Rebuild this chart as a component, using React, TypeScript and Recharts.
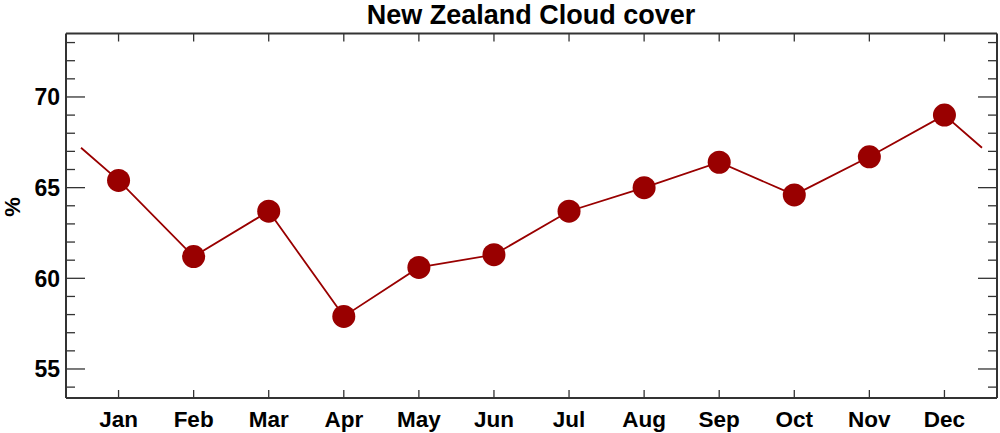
import { LineChart, Line, XAxis, YAxis } from "recharts";

// monthly mean cloud cover (%), Jan..Dec
const months = ["Jan", "Feb", "Mar", "Apr", "May", "Jun", "Jul", "Aug", "Sep", "Oct", "Nov", "Dec"];
const cloud = [65.4, 61.2, 63.7, 57.9, 60.6, 61.3, 63.7, 65.0, 66.4, 64.6, 66.7, 69.0];
// wrap-around line ends drawn at half a month beyond Jan and Dec
const wrapPos = [0.5, 12.5];
const wrapVal = [67.2, 67.2];

const yTicks = [54, 55, 56, 57, 58, 59, 60, 61, 62, 63, 64, 65, 66, 67, 68, 69, 70, 71, 72, 73];
const monthTicks = [1, 2, 3, 4, 5, 6, 7, 8, 9, 10, 11, 12];

const data = [
  { m: wrapPos[0], v: wrapVal[0], wrap: true },
  ...cloud.map((v, i) => ({ m: i + 1, v, wrap: false })),
  { m: wrapPos[1], v: wrapVal[1], wrap: true },
];

const RED = "#990000";
const AXIS = "#333";
const FONT = "'Liberation Sans', Arial, sans-serif";

const BottomTick = (p: any) => (
  <g>
    <line x1={p.x} x2={p.x} y1={p.y} y2={p.y - 8} stroke={AXIS} strokeWidth={1.3} />
    <text x={p.x} y={p.y + 28.5} textAnchor="middle" fontFamily={FONT} fontWeight="bold" fontSize={22.5} fill="#000">
      {months[p.payload.value - 1]}
    </text>
  </g>
);

const TopTick = (p: any) => (
  <line x1={p.x} x2={p.x} y1={p.y} y2={p.y + 8} stroke={AXIS} strokeWidth={1.3} />
);

const LeftTick = (p: any) => {
  const major = p.payload.value % 5 === 0;
  return (
    <g>
      <line x1={p.x} x2={p.x + (major ? 19 : 9)} y1={p.y} y2={p.y} stroke={AXIS} strokeWidth={1.3} />
      {major && (
        <text x={p.x - 6} y={p.y} dy="0.36em" textAnchor="end" fontFamily={FONT} fontWeight="bold" fontSize={23} fill="#000">
          {p.payload.value}
        </text>
      )}
    </g>
  );
};

const RightTick = (p: any) => {
  const major = p.payload.value % 5 === 0;
  return <line x1={p.x} x2={p.x - (major ? 19 : 9)} y1={p.y} y2={p.y} stroke={AXIS} strokeWidth={1.3} />;
};

const Dot = (p: any) => {
  if (p.payload.wrap) return <g key={p.index} />;
  return <circle key={p.index} cx={p.cx} cy={p.cy} r={11.5} fill={RED} />;
};

export default function App() {
  return (
    <div style={{ position: "absolute", left: 0, top: 0, width: 1000, height: 433, background: "#fff" }}>
      <LineChart width={1000} height={433} data={data} margin={{ top: 0, right: 0, bottom: 0, left: 0 }}>
        <XAxis
          xAxisId="b"
          dataKey="m"
          type="number"
          domain={[0.3, 12.7]}
          ticks={monthTicks}
          orientation="bottom"
          height={35}
          tickSize={0}
          tickMargin={0}
          tickLine={false}
          tick={<BottomTick />}
          axisLine={{ stroke: AXIS, strokeWidth: 2 }}
          allowDataOverflow
        />
        <XAxis
          xAxisId="t"
          dataKey="m"
          type="number"
          domain={[0.3, 12.7]}
          ticks={monthTicks}
          orientation="top"
          height={33.5}
          tickSize={0}
          tickMargin={0}
          tickLine={false}
          tick={<TopTick />}
          axisLine={{ stroke: AXIS, strokeWidth: 2 }}
          allowDataOverflow
        />
        <YAxis
          yAxisId="l"
          type="number"
          domain={[53.4, 73.5]}
          ticks={yTicks}
          width={66}
          tickSize={0}
          tickMargin={0}
          tickLine={false}
          tick={<LeftTick />}
          axisLine={{ stroke: AXIS, strokeWidth: 2 }}
          allowDataOverflow
          interval={0}
        />
        <YAxis
          yAxisId="r"
          orientation="right"
          type="number"
          domain={[53.4, 73.5]}
          ticks={yTicks}
          width={3}
          tickSize={0}
          tickMargin={0}
          tickLine={false}
          tick={<RightTick />}
          axisLine={{ stroke: AXIS, strokeWidth: 2 }}
          allowDataOverflow
          interval={0}
        />
        <Line
          xAxisId="b"
          yAxisId="l"
          dataKey="v"
          stroke={RED}
          strokeWidth={1.8}
          dot={<Dot />}
          activeDot={false}
          isAnimationActive={false}
        />
        <text x={531} y={24} textAnchor="middle" fontFamily={FONT} fontWeight="bold" fontSize={27} fill="#000">
          New Zealand Cloud cover
        </text>
        <text
          x={20}
          y={207}
          textAnchor="middle"
          transform="rotate(-90 20 207)"
          fontFamily={FONT}
          fontWeight="bold"
          fontSize={22}
          fill="#000"
        >
          %
        </text>
      </LineChart>
    </div>
  );
}
